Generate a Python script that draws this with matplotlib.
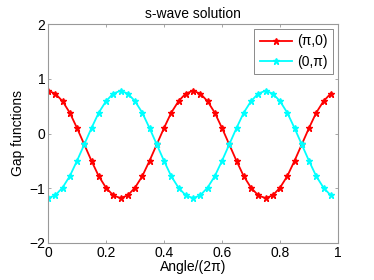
import matplotlib
matplotlib.use("Agg")
import matplotlib.pyplot as plt
import numpy as np

plt.rcParams['font.family'] = ['Liberation Sans', 'DejaVu Sans']

# angle index k = 0..39, x = k/40
n_points = 40
x = [k / n_points for k in range(n_points)]

red_period = [0.78, 0.73, 0.59, 0.38, 0.10, -0.20, -0.50, -0.78, -0.99, -1.13,
              -1.18, -1.13, -0.99, -0.78, -0.50, -0.20, 0.10, 0.38, 0.59, 0.73]
cyan_period = [-1.18, -1.13, -0.99, -0.78, -0.50, -0.20, 0.10, 0.38, 0.59, 0.73,
               0.78, 0.73, 0.59, 0.38, 0.10, -0.20, -0.50, -0.78, -0.99, -1.13]
pi0 = red_period + red_period
zpi = cyan_period + cyan_period

labels = ['(\u03c0,0)', '(0,\u03c0)']
xticks = [0, 0.2, 0.4, 0.6, 0.8, 1]
xticklabels = ['0', '0.2', '0.4', '0.6', '0.8', '1']
yticks = [-2, -1, 0, 1, 2]

fig = plt.figure(figsize=(3.74, 2.80), dpi=100)
ax = fig.add_axes([48/374, 1 - 243/280, 290/374, 219/280])

ax.plot(x, pi0, color='#ff0000', marker='*', markersize=4.5, linewidth=1.3, label=labels[0])
ax.plot(x, zpi, color='#00ffff', marker='*', markersize=4.5, linewidth=1.3, label=labels[1])

ax.set_xlim(0, 1)
ax.set_ylim(-2, 2)
ax.set_xticks(xticks)
ax.set_xticklabels(xticklabels)
ax.set_yticks(yticks)
ax.tick_params(direction='in', length=2.5, width=0.6, top=True, right=True,
               labelsize=10, colors='#999999', labelcolor='black', pad=2)
for s in ax.spines.values():
    s.set_color('#999999')
    s.set_linewidth(0.8)

ax.set_title('s-wave solution', fontsize=10, pad=4)
ax.set_xlabel('Angle/(2\u03c0)', fontsize=10, labelpad=0)
ax.set_ylabel('Gap functions', fontsize=10, labelpad=3)

leg = ax.legend(loc='upper right', fontsize=10, fancybox=False, framealpha=1,
                edgecolor='#777777', handlelength=2.3, borderaxespad=0.35,
                handletextpad=0.4, labelspacing=0.45, borderpad=0.4)
leg.get_frame().set_linewidth(0.6)

fig.savefig('out.png', dpi=100)
